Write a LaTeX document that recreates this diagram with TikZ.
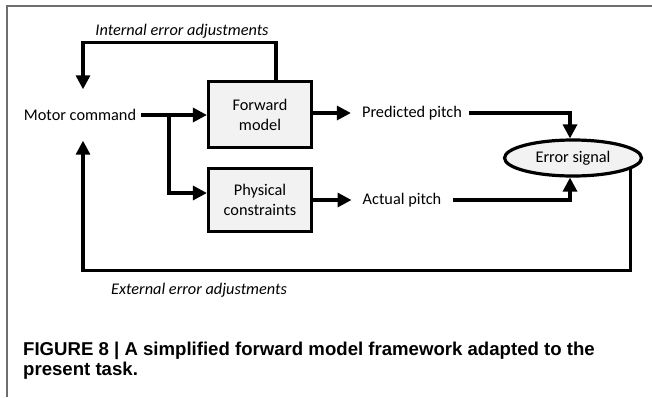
\documentclass[tikz,border=0pt]{standalone}
\usepackage{fontspec}
\setmainfont{Carlito}
\newfontfamily\capfont{Liberation Sans}
\usetikzlibrary{arrows.meta,shapes.geometric,calc}
\definecolor{boxfill}{HTML}{F2F2F2}
\definecolor{framegray}{HTML}{6E6E6E}
\begin{document}
\begin{tikzpicture}[x=1pt,y=-1pt,
  conn/.style={line width=3.2pt},
  arr/.style={conn,-{Triangle[length=14pt,width=14pt]}},
  txt/.style={font=\fontsize{16.3}{20}\selectfont, inner sep=0pt},
  ital/.style={font=\fontsize{16.3}{20}\selectfont\itshape, inner sep=0pt},
  blk/.style={draw, fill=boxfill, line width=3.2pt, minimum width=103pt, align=center, font=\fontsize{16.3}{20}\selectfont},
  capt/.style={font=\capfont\bfseries\fontsize{18.6}{20}\selectfont, inner sep=0pt, anchor=base west},
]
\useasboundingbox (0,0) rectangle (652,397);
\draw[line width=2pt, framegray] (7,397) -- (7,5.5) -- (652,5.5);

\node[txt, minimum height=51pt, inner xsep=5pt] (mc) at (80,115) {Motor command};
\node[blk, minimum height=66pt] (fm) at (260,114.5) {Forward\\model};
\node[blk, minimum height=63pt] (pc) at (260,200) {Physical\\constraints};
\node[txt] (pp) at (412,113) {Predicted pitch};
\node[txt] (ap) at (402,200) {Actual pitch};
\node[draw, ellipse, fill=boxfill, line width=3.2pt, minimum width=137pt, minimum height=36pt, txt] (es) at (573,158) {Error signal};
\node[ital] (ia) at (182,31) {Internal error adjustments};
\node[ital] (ea) at (199,290) {External error adjustments};

\coordinate (br) at (169,115);
\draw[arr] (mc.east) -- (fm.west |- mc.east);
\draw[arr] (br) |- ($(pc.west)+(0,-7)$);
\draw[arr] ($(fm.north)+(16,0)$) -- ++(0,-37.4) -| ($(mc.north)+(3,0)$);
\draw[arr, shorten >=11pt] (fm.east |- pp.west) -- (pp.west);
\draw[arr, shorten >=11pt] (pc.east |- ap.west) -- (ap.west);
\draw[arr, shorten <=7pt] (pp.east) -| ($(es.north)+(-3,0)$);
\draw[arr, shorten <=11pt] (ap.east) -| ($(es.south)+(-3,0)$);
\draw[arr] (es.-11.5) -- ++(0,101) -| ($(mc.south)+(3,0)$);

\node[capt] (cap1) at (23,355) {FIGURE 8 | A simplified forward model framework adapted to the};
\node[capt] (cap2) at (23,375) {present task.};
\end{tikzpicture}
\end{document}
